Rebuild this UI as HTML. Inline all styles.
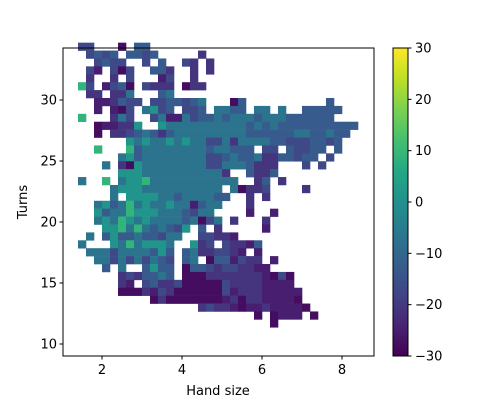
<!DOCTYPE html>
<html><head><meta charset="utf-8"><style>
body{margin:0;background:#fff}
svg{display:block;font-family:"DejaVu Sans","Liberation Sans",sans-serif}
</style></head><body>
<svg id="chart" width="500" height="400" viewBox="0 0 500 400"></svg>
<script>
// Data: 2D histogram cell values (letters are levels), rows from top (high turns) down
const levelKeys = ["a","b","c","d","e","f","g","h"];
const levelValues = [-28,-25,-21,-17,-13,-7,1,9];
const xTicks = [2,4,6,8];
const yTicks = [10,15,20,25,30];
const cbarTicks = [-30,-20,-10,0,10,20,30];
const binX0 = 1.4, binW = 0.2;
const rows = [
"dd... a.ee. ..... ..... ..... ..... .....",
".dede .eede ..... c.... ..... ..... .....",
"..ded d..d. e..dc .c... ..... ..... .....",
".db.d ad..e ec..c .c... ..... ..... .....",
".c..c .d... bd..c ..... ..... ..... .....",
"hd.bd ea.dc cc.ac c.... ..... ..... .....",
".cc.c cf... ef... ..... ..... ..... .....",
"..bbc edd.d deede f...a e.... ..... .e...",
"..b.b ad.fg de.dd e.ffe e.ff. f..ee eee..",
"h...c fd..d fbbfd eefef ffeff feeee ee...",
"..abb ccg.. gffff fffff fefef eeeee eeeee",
"..a.c cdefe cefff fffff feeee eeffe efee.",
"..... .gfgf fgfgf fddfc ffffe eddde ede..",
"..h.. .heff fffff feffe ee.dd .edde e.e..",
"..... fgeff fffff fddef eefcc eedee .d...",
"...f. cagff fffff fddff feccc ...d. d....",
"..... gggff fffff fffc. .ecce ..... .....",
"f..h. fgghf fffff fffff ..ce. c.... .....",
"....f gggff fffff fff.f accd. ...c. .....",
"....f .gggg ffeff ffee. .c.c. ..... .....",
"..fge fhfgf fgffb eff.. .c... ..... .....",
"..gef fhggg fffed ff... .b..b ..... .....",
"..fgf hgfgf fffef adf.c ...c. ..... .....",
"...gg hfhfe fedg. e.c.. ...b. ..... .....",
".f.eg eefee dff.. ddccb ..... ..... .....",
"f...g fhfgg gf..g cd.dc cbe.. ..... .....",
".fffd ffffe ge.ef ccddc b.b.. ..... .....",
"..ffd fdfdf ed.ef .aeeb dcc.b ..... .....",
"...e. f..eg ee.ae edcdd ccbb. ..... .....",
"..... cdcee fe.aa acccc cccba da... .....",
"..... cb.de ccdaa aaadc cccbb bb... .....",
"..... aaacb dcaaa aaadb cccbb bbb.. .....",
"..... ....a caaaa aaabc accbb bba.. .....",
"..... ..... ..... cdccb abbcb bbba. .....",
"..... ..... ..... ..... ..a.a bbb.a .....",
"..... ..... ..... ..... ....a ..... ....."
];
const topTurn = 34.7, binH = 0.648;

const NS="http://www.w3.org/2000/svg";
const svg=document.getElementById('chart');
const PX0=63,PX1=374,PY0=48,PY1=356;
function sx(v){return 102+(v-2)*40;}
function sy(v){return 344-(v-10)*12.2;}
function cy(v){return 356-(v+30)/60*308;}
const stops=["#440154","#482475","#414487","#355f8d","#2a788e","#21918c","#22a884","#44bf70","#7ad151","#bddf26","#fde725"];
function hex(h){return [1,3,5].map(i=>parseInt(h.substr(i,2),16));}
function viridis(v){
  let t=Math.max(0,Math.min(1,(v+30)/60))*10;let i=Math.min(9,Math.floor(t));let f=t-i;
  const a=hex(stops[i]),b=hex(stops[i+1]);
  return "rgb("+a.map((c,k)=>Math.round(c+(b[k]-c)*f)).join(",")+")";
}
function el(tag,attrs,parent){const e=document.createElementNS(NS,tag);for(const k in attrs)e.setAttribute(k,attrs[k]);(parent||svg).appendChild(e);return e;}

const cells=el('g',{});


rows.forEach((row,r)=>{
  const s=row.replace(/ /g,'');
  for(let c=0;c<s.length;c++){
    const k=levelKeys.indexOf(s[c]);
    if(k<0)continue;
    const x0=sx(binX0+c*binW),x1=sx(binX0+(c+1)*binW);
    const y0=sy(topTurn-r*binH),y1=sy(topTurn-(r+1)*binH);
    const rc=el('rect',{x:x0,y:y0,width:x1-x0+0.3,height:y1-y0+0.3,fill:viridis(levelValues[k])},cells);
    
    
  }
});
const frame=el('rect',{x:PX0,y:PY0,width:PX1-PX0,height:PY1-PY0,fill:'none',stroke:'#000','stroke-width':1});


const FS=13;
xTicks.forEach(v=>{
  const x=sx(v);
  el('line',{x1:x,x2:x,y1:PY1,y2:PY1+3.5,stroke:'#000'});
  const t=el('text',{x:x,y:PY1+18,'font-size':FS,'text-anchor':'middle'});t.textContent=v;
  
  
});
yTicks.forEach(v=>{
  const y=sy(v);
  el('line',{x1:PX0-3.5,x2:PX0,y1:y,y2:y,stroke:'#000'});
  const t=el('text',{x:PX0-6,y:y+4.5,'font-size':FS,'text-anchor':'end'});t.textContent=v;
  
  
});
const xl=el('text',{x:218,y:395,'font-size':FS,'text-anchor':'middle'});xl.textContent='Hand size';


const yl=el('text',{x:27,y:202,'font-size':FS,'text-anchor':'middle',transform:'rotate(-90 27 202)'});yl.textContent='Turns';


// colorbar
const defs=el('defs',{});
const lg=el('linearGradient',{id:'vg',x1:0,y1:1,x2:0,y2:0},defs);
stops.forEach((c,i)=>el('stop',{offset:i/10,'stop-color':c},lg));
const cb=el('rect',{x:393,y:PY0,width:15,height:PY1-PY0,fill:'url(#vg)',stroke:'#000','stroke-width':1});


cbarTicks.forEach(v=>{
  const y=cy(v);
  el('line',{x1:408,x2:411.5,y1:y,y2:y,stroke:'#000'});
  const t=el('text',{x:415,y:y+4.5,'font-size':FS});t.textContent=v<0?'\u2212'+(-v):v;
  
  
});
</script>
</body></html>
